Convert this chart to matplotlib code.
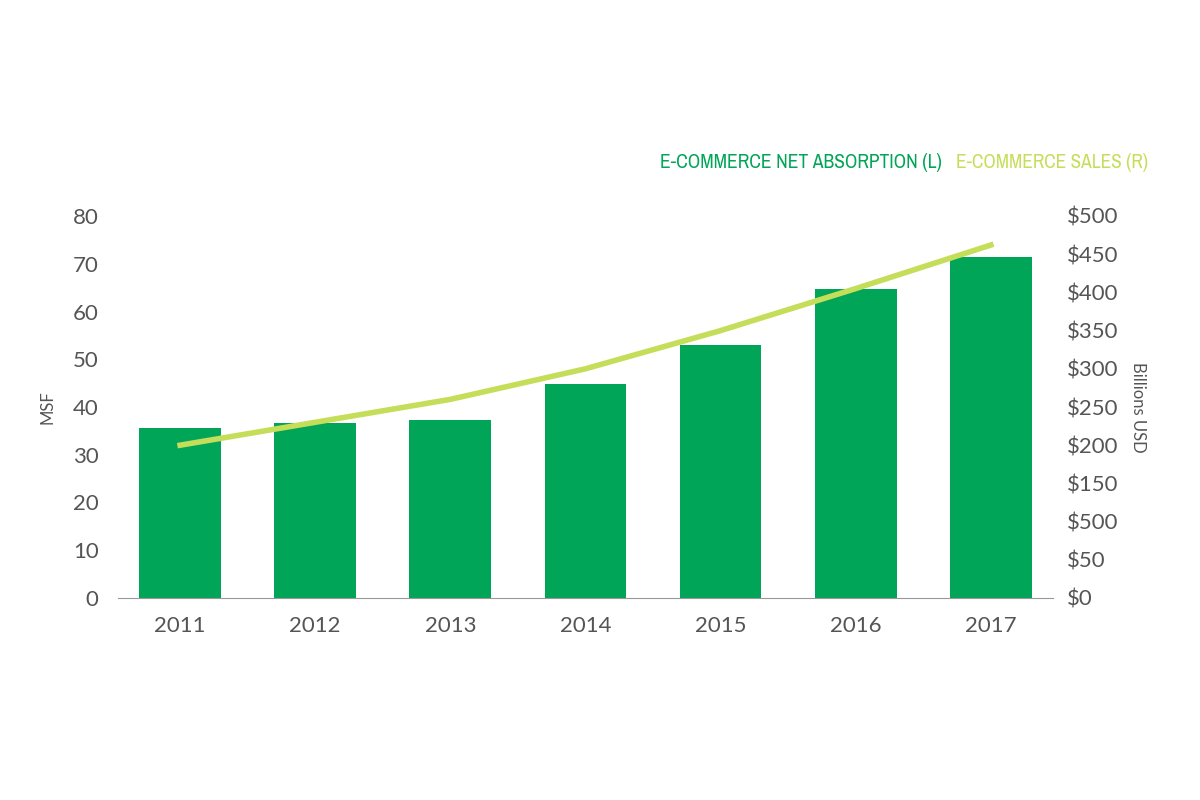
import matplotlib.pyplot as plt
from matplotlib import font_manager

years = ['2011', '2012', '2013', '2014', '2015', '2016', '2017']
absorption = [35.7, 36.6, 37.2, 44.8, 53.0, 64.8, 71.5]
sales = [200, 230, 260, 300, 350, 405, 462]
right_ticks = [0, 50, 100, 150, 200, 250, 300, 350, 400, 450, 500]
right_labels = ['$0', '$50', '$500', '$150', '$200', '$250', '$300',
                '$350', '$400', '$450', '$500']

bar_color = '#00a557'
line_color = '#c5de5a'
text_color = '#555555'

# look for a narrow face for the legend text
narrow_family, narrow_stretch = 'DejaVu Sans', 'normal'
for f in font_manager.fontManager.ttflist:
    if 'Narrow' in f.name or 'Condensed' in f.name:
        narrow_family, narrow_stretch = f.name, 'normal'
        break
    if f.stretch in ('condensed', 'semi-condensed', 'extra-condensed') and f.style == 'normal' \
            and f.weight in (400, 'normal'):
        narrow_family, narrow_stretch = f.name, f.stretch

plt.rcParams['font.family'] = ['Lato', 'DejaVu Sans']

fig = plt.figure(figsize=(12, 8), dpi=100)
ax = fig.add_axes([0.0983, 0.2525, 0.7792, 0.4775])
x = range(len(years))
ax.bar(x, absorption, width=0.605, color=bar_color, zorder=2)
ax.set_ylim(0, 80)
ax.set_xlim(-0.46, 6.46)
ax.set_yticks(range(0, 81, 10))
ax.set_xticks(list(x))
ax.set_xticklabels(years)
for s in ['top', 'right', 'left']:
    ax.spines[s].set_visible(False)
ax.spines['bottom'].set_color('#999999')
ax.tick_params(length=0, labelsize=16, colors=text_color, pad=13)
ax.tick_params(axis='y', pad=14)
ax.set_ylabel('MSF', fontsize=12, color=text_color, labelpad=12)

ax2 = ax.twinx()
ax2.plot(x, sales, color=line_color, lw=4, zorder=3)
ax2.set_ylim(0, 500)
ax2.set_yticks(right_ticks)
ax2.set_yticklabels(right_labels)
for s in ax2.spines.values():
    s.set_visible(False)
ax2.tick_params(length=0, labelsize=16, colors=text_color, pad=10)
ax2.set_ylabel('Billions USD', fontsize=12, color=text_color, rotation=-90, labelpad=20)

legend_items = [
    ('E-COMMERCE NET ABSORPTION (L)', bar_color, 660, 942),
    ('E-COMMERCE SALES (R)', line_color, 956, 1148),
]
renderer = fig.canvas.get_renderer()
for label, color, x0, x1 in legend_items:
    t = fig.text(x1 / 1200, 1 - 163 / 800, label, ha='right', va='center',
                 fontsize=19, color=color, family=narrow_family, stretch=narrow_stretch)
    w = t.get_window_extent(renderer).width
    t.set_fontsize(19 * (x1 - x0) / w)

fig.savefig('out.png', dpi=100, facecolor='white')
